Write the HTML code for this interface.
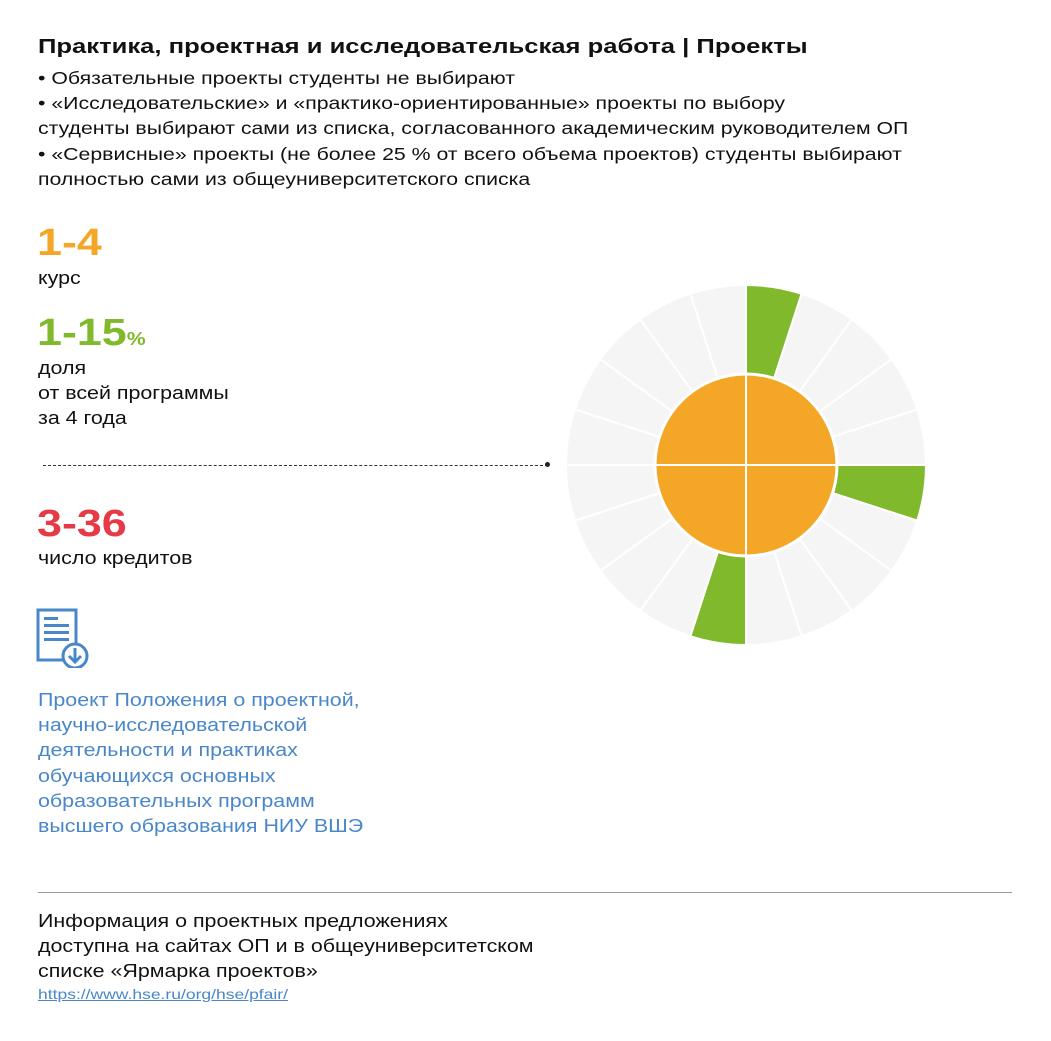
<!DOCTYPE html>
<html><head><meta charset="utf-8"><style>
body{margin:0;width:1051px;height:1041px;background:#fff;font-family:"Liberation Sans",sans-serif;color:#111;position:relative;overflow:hidden}
.a{position:absolute;white-space:nowrap;transform-origin:0 0}
.t{left:38px;top:36px;font-size:20px;font-weight:bold;transform:scaleX(1.28)}
.b{left:38px;top:66px;font-size:17.5px;line-height:25.2px;transform:scaleX(1.215)}
.big{font-size:38px;font-weight:bold;left:37px;transform:scaleX(1.18)}
.s{font-size:18px;line-height:25px;left:38px;transform:scaleX(1.19)}
.lnk{left:38px;top:688px;font-size:18px;line-height:25.2px;color:#4a87c8;transform:scaleX(1.19)}
</style></head><body>
<div class="a t">Практика, проектная и исследовательская работа | Проекты</div>
<div class="a b">• Обязательные проекты студенты не выбирают<br>• «Исследовательские» и «практико-ориентированные» проекты по выбору<br>студенты выбирают сами из списка, согласованного академическим руководителем ОП<br>• «Сервисные» проекты (не более 25 % от всего объема проектов) студенты выбирают<br>полностью сами из общеуниверситетского списка</div>
<div class="a big" style="top:222px;color:#f4a626">1-4</div>
<div class="a s" style="top:266px">курс</div>
<div class="a big" style="top:312px;color:#80b92b">1-15<span style="font-size:18px">%</span></div>
<div class="a s" style="top:356px">доля<br>от всей программы<br>за 4 года</div>
<div class="a" style="left:43px;top:465px;width:505px;border-top:1px dashed #333"></div>
<div class="a" style="left:545px;top:462px;width:5px;height:5px;border-radius:50%;background:#222"></div>
<div class="a big" style="top:503px;color:#e63a46">3-36</div>
<div class="a s" style="top:546px">число кредитов</div>
<svg class="a" style="left:36px;top:608px" width="58" height="60" viewBox="0 0 58 60">
<rect x="2" y="2" width="38" height="50" fill="#fff" stroke="#4a87c8" stroke-width="3"/>
<rect x="8" y="9" width="14" height="3" fill="#4a87c8"/>
<rect x="8" y="16" width="25" height="3" fill="#4a87c8"/>
<rect x="8" y="23" width="25" height="3" fill="#4a87c8"/>
<rect x="8" y="30" width="25" height="3" fill="#4a87c8"/>
<circle cx="39" cy="48" r="12" fill="#fff" stroke="#4a87c8" stroke-width="3"/>
<path d="M39 40v13M33 48l6 6 6-6" stroke="#4a87c8" stroke-width="3" fill="none"/>
</svg>
<div class="a lnk">Проект Положения о проектной,<br>научно-исследовательской<br>деятельности и практиках<br>обучающихся основных<br>образовательных программ<br>высшего образования НИУ ВШЭ</div>
<div class="a" style="left:38px;top:892px;width:974px;border-top:1px solid #999"></div>
<div class="a s" style="top:909px">Информация о проектных предложениях<br>доступна на сайтах ОП и в общеуниверситетском<br>списке «Ярмарка проектов»</div>
<div class="a" style="left:38px;top:986px;font-size:14px;color:#4a87c8;text-decoration:underline;transform:scaleX(1.25)">https://www.hse.ru/org/hse/pfair/</div>
<svg class="a" style="left:0;top:0" width="1051" height="1041" id="c"></svg>
<script>
var s=document.getElementById('c'),cx=746,cy=465,R=180,h='';
function p(a){return [cx+R*Math.sin(a),cy-R*Math.cos(a)];}
for(var i=0;i<20;i++){var a0=i*Math.PI/10,a1=(i+1)*Math.PI/10,g=(i==0||i==5||i==10);
var A=p(a0),B=p(a1);
h+='<path d="M'+cx+' '+cy+'L'+A[0]+' '+A[1]+'A'+R+' '+R+' 0 0 1 '+B[0]+' '+B[1]+'Z" fill="'+(g?'#80b92b':'#f5f5f5')+'" stroke="#fff" stroke-width="2"/>';}
h+='<circle cx="'+cx+'" cy="'+cy+'" r="91" fill="#f4a626" stroke="#fff" stroke-width="3"/>';
h+='<path d="M'+cx+' '+(cy-91)+'V'+(cy+91)+'M'+(cx-91)+' '+cy+'H'+(cx+91)+'" stroke="#fff" stroke-width="2"/>';
s.innerHTML=h;
</script>
</body></html>
